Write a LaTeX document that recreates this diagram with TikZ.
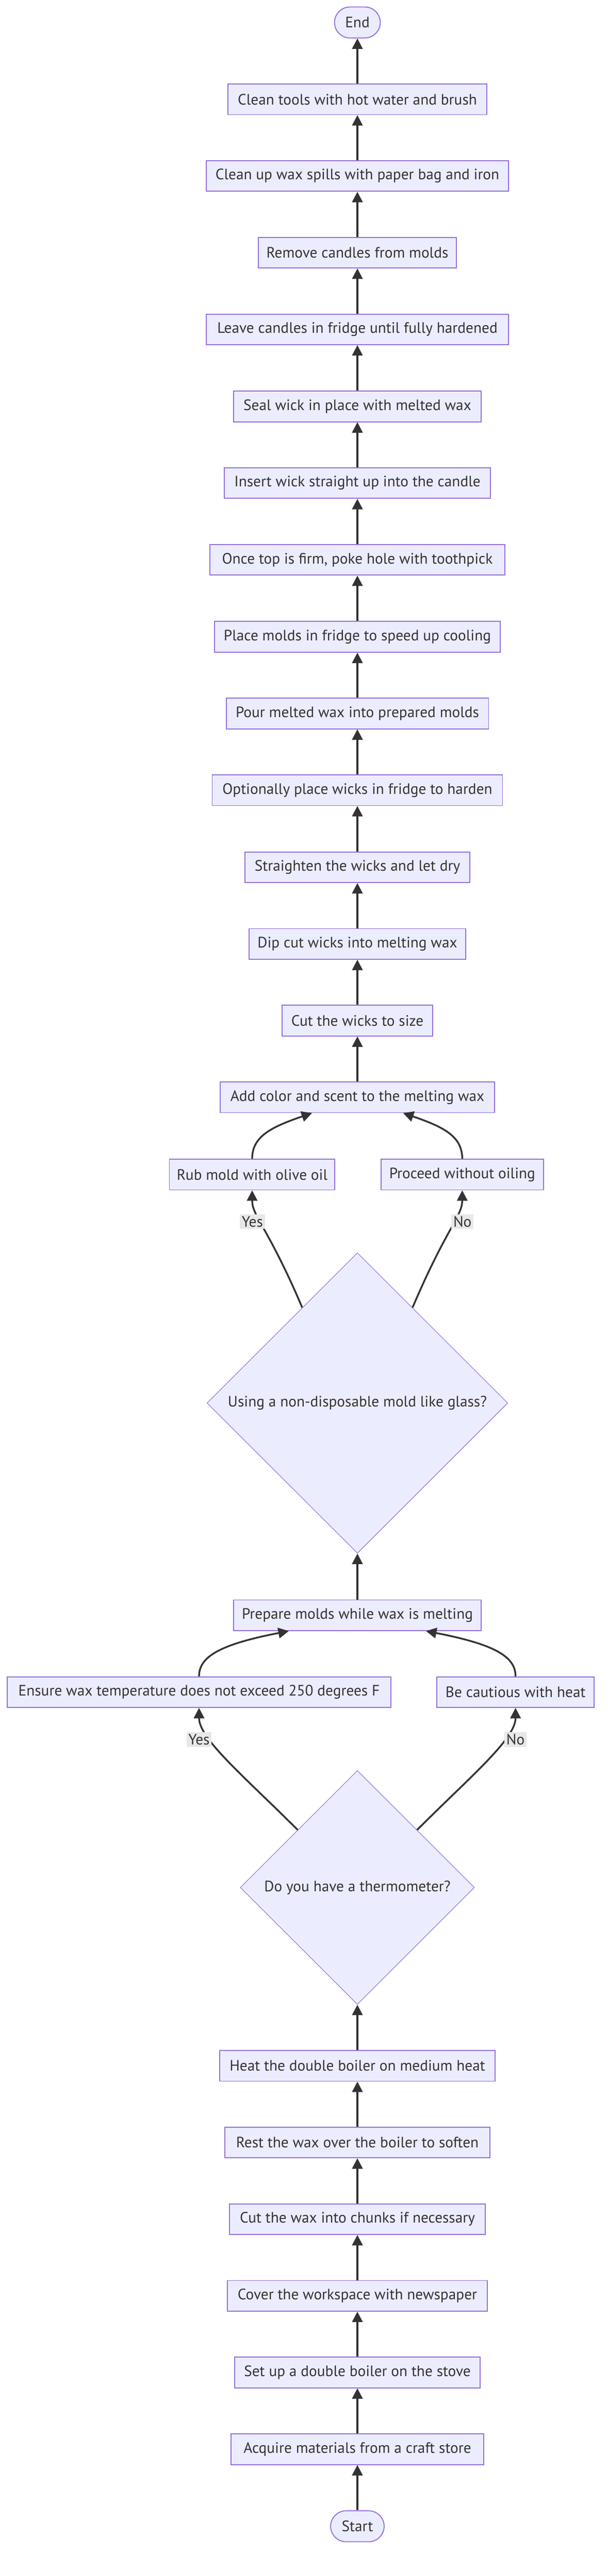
\documentclass[tikz,border=0pt]{standalone}
\usepackage{fontspec}
\setmainfont{PT Sans}
\usetikzlibrary{arrows.meta,shapes.geometric}
\definecolor{mmfill}{HTML}{ECECFF}
\definecolor{mmline}{HTML}{9370DB}
\definecolor{mmedge}{HTML}{333333}
\definecolor{mmlabel}{HTML}{E8E8E8}

\begin{document}
\begin{tikzpicture}[
  every node/.style={font=\fontsize{11.1}{13}\selectfont,text=mmedge},
  box/.style={draw=mmline,line width=0.025cm,fill=mmfill,
              minimum height=0.79cm,inner sep=0pt,align=center},
  term/.style={box,rounded corners=0.4cm,minimum height=0.8cm},
  decide/.style={diamond,draw=mmline,line width=0.015cm,fill=mmfill,
                 inner sep=0pt,aspect=1},
  flow/.style={draw=mmedge,line width=0.045cm,
               -{Triangle[length=0.27cm,width=0.27cm]}},
  lbl/.style={fill=mmlabel,inner sep=0.05cm}
]
  \path[use as bounding box,fill=white] (0,0) rectangle (15.68,-66.52);

  % top part
  \node[term,minimum width=1.18cm] (finish) at (9.22,-0.58) {End};
  \node[box,minimum width=6.67cm] (clean) at (9.22,-2.565) {Clean tools with hot water and brush};
  \node[box,minimum width=7.79cm] (spill) at (9.22,-4.545) {Clean up wax spills with paper bag and iron};
  \node[box,minimum width=5.11cm] (remove) at (9.22,-6.525) {Remove candles from molds};
  \node[box,minimum width=7.79cm] (harden) at (9.22,-8.505) {Leave candles in fridge until fully hardened};
  \node[box,minimum width=6.38cm] (seal) at (9.22,-10.495) {Seal wick in place with melted wax};
  \node[box,minimum width=6.87cm] (insert) at (9.22,-12.475) {Insert wick straight up into the candle};
  \node[box,minimum width=7.61cm] (poke) at (9.22,-14.455) {Once top is firm, poke hole with toothpick};
  \node[box,minimum width=7.37cm] (cool) at (9.22,-16.445) {Place molds in fridge to speed up cooling};
  \node[box,minimum width=6.77cm] (pour) at (9.22,-18.425) {Pour melted wax into prepared molds};
  \node[box,minimum width=7.49cm] (optwick) at (9.22,-20.405) {Optionally place wicks in fridge to harden};
  \node[box,minimum width=5.81cm] (straight) at (9.22,-22.395) {Straighten the wicks and let dry};
  \node[box,minimum width=5.59cm] (dip) at (9.22,-24.375) {Dip cut wicks into melting wax};
  \node[box,minimum width=3.89cm] (cutwick) at (9.22,-26.355) {Cut the wicks to size};
  \node[box,minimum width=7.07cm] (color) at (9.22,-28.335) {Add color and scent to the melting wax};
  \node[box,minimum width=4.27cm] (rub) at (6.505,-30.33) {Rub mold with olive oil};
  \node[box,minimum width=4.19cm] (nooil) at (11.925,-30.33) {Proceed without oiling};
  \node[decide,minimum width=7.76cm,minimum height=7.76cm] (glass) at (9.22,-36.23) {Using a non-disposable mold like glass?};

  % middle part
  \node[box,minimum width=6.39cm] (prep) at (9.22,-41.71) {Prepare molds while wax is melting};
  \node[box,minimum width=9.89cm] (ensure) at (5.135,-43.695) {Ensure wax temperature does not exceed 250 degrees F};
  \node[box,minimum width=4.06cm] (careful) at (13.30,-43.695) {Be cautious with heat};
  \node[decide,minimum width=6.04cm,minimum height=6.04cm] (thermo) at (9.22,-48.74) {Do you have a thermometer?};

  % bottom part
  \node[box,minimum width=7.11cm] (heat) at (9.22,-53.345) {Heat the double boiler on medium heat};
  \node[box,minimum width=6.83cm] (rest) at (9.22,-55.325) {Rest the wax over the boiler to soften};
  \node[box,minimum width=6.59cm] (chunks) at (9.22,-57.305) {Cut the wax into chunks if necessary};
  \node[box,minimum width=6.71cm] (cover) at (9.22,-59.285) {Cover the workspace with newspaper};
  \node[box,minimum width=6.33cm] (boiler) at (9.22,-61.265) {Set up a double boiler on the stove};
  \node[box,minimum width=6.51cm] (acquire) at (9.22,-63.245) {Acquire materials from a craft store};
  \node[term,minimum width=1.38cm] (start) at (9.22,-65.235) {Start};

  % straight steps
  \draw[flow] (start) -- (acquire);
  \draw[flow] (acquire) -- (boiler);
  \draw[flow] (boiler) -- (cover);
  \draw[flow] (cover) -- (chunks);
  \draw[flow] (chunks) -- (rest);
  \draw[flow] (rest) -- (heat);
  \draw[flow] (heat) -- (thermo);
  \draw[flow] (prep) -- (glass);
  \draw[flow] (color) -- (cutwick);
  \draw[flow] (cutwick) -- (dip);
  \draw[flow] (dip) -- (straight);
  \draw[flow] (straight) -- (optwick);
  \draw[flow] (optwick) -- (pour);
  \draw[flow] (pour) -- (cool);
  \draw[flow] (cool) -- (poke);
  \draw[flow] (poke) -- (insert);
  \draw[flow] (insert) -- (seal);
  \draw[flow] (seal) -- (harden);
  \draw[flow] (harden) -- (remove);
  \draw[flow] (remove) -- (spill);
  \draw[flow] (spill) -- (clean);
  \draw[flow] (clean) -- (finish);

  % branches
  \draw[flow] (thermo.136) .. controls +(-1.4,1.4) and +(0,-0.8) .. (ensure.south);
  \draw[flow] (thermo.44) .. controls +(1.4,1.4) and +(0,-0.8) .. (careful.south);
  \draw[flow] (ensure.north) .. controls +(0,0.5) and +(-1.8,-0.35) .. ([xshift=-1.77cm]prep.south);
  \draw[flow] (careful.north) .. controls +(0,0.5) and +(1.8,-0.35) .. ([xshift=1.77cm]prep.south);
  \draw[flow] (glass.120) .. controls +(-0.88,2.07) and +(0,-0.67) .. (rub.south);
  \draw[flow] (glass.60) .. controls +(0.88,2.07) and +(0,-0.67) .. (nooil.south);
  \draw[flow] (rub.north) .. controls +(0,0.58) and +(-1.05,-0.36) .. ([xshift=-1.17cm]color.south);
  \draw[flow] (nooil.north) .. controls +(0,0.58) and +(1.05,-0.36) .. ([xshift=1.18cm]color.south);

  % edge labels
  \node[lbl] (yes1) at (6.51,-31.545) {Yes};
  \node[lbl] (no1) at (11.93,-31.545) {No};
  \node[lbl] (yes2) at (5.135,-44.92) {Yes};
  \node[lbl] (no2) at (13.30,-44.92) {No};
\end{tikzpicture}
\end{document}
